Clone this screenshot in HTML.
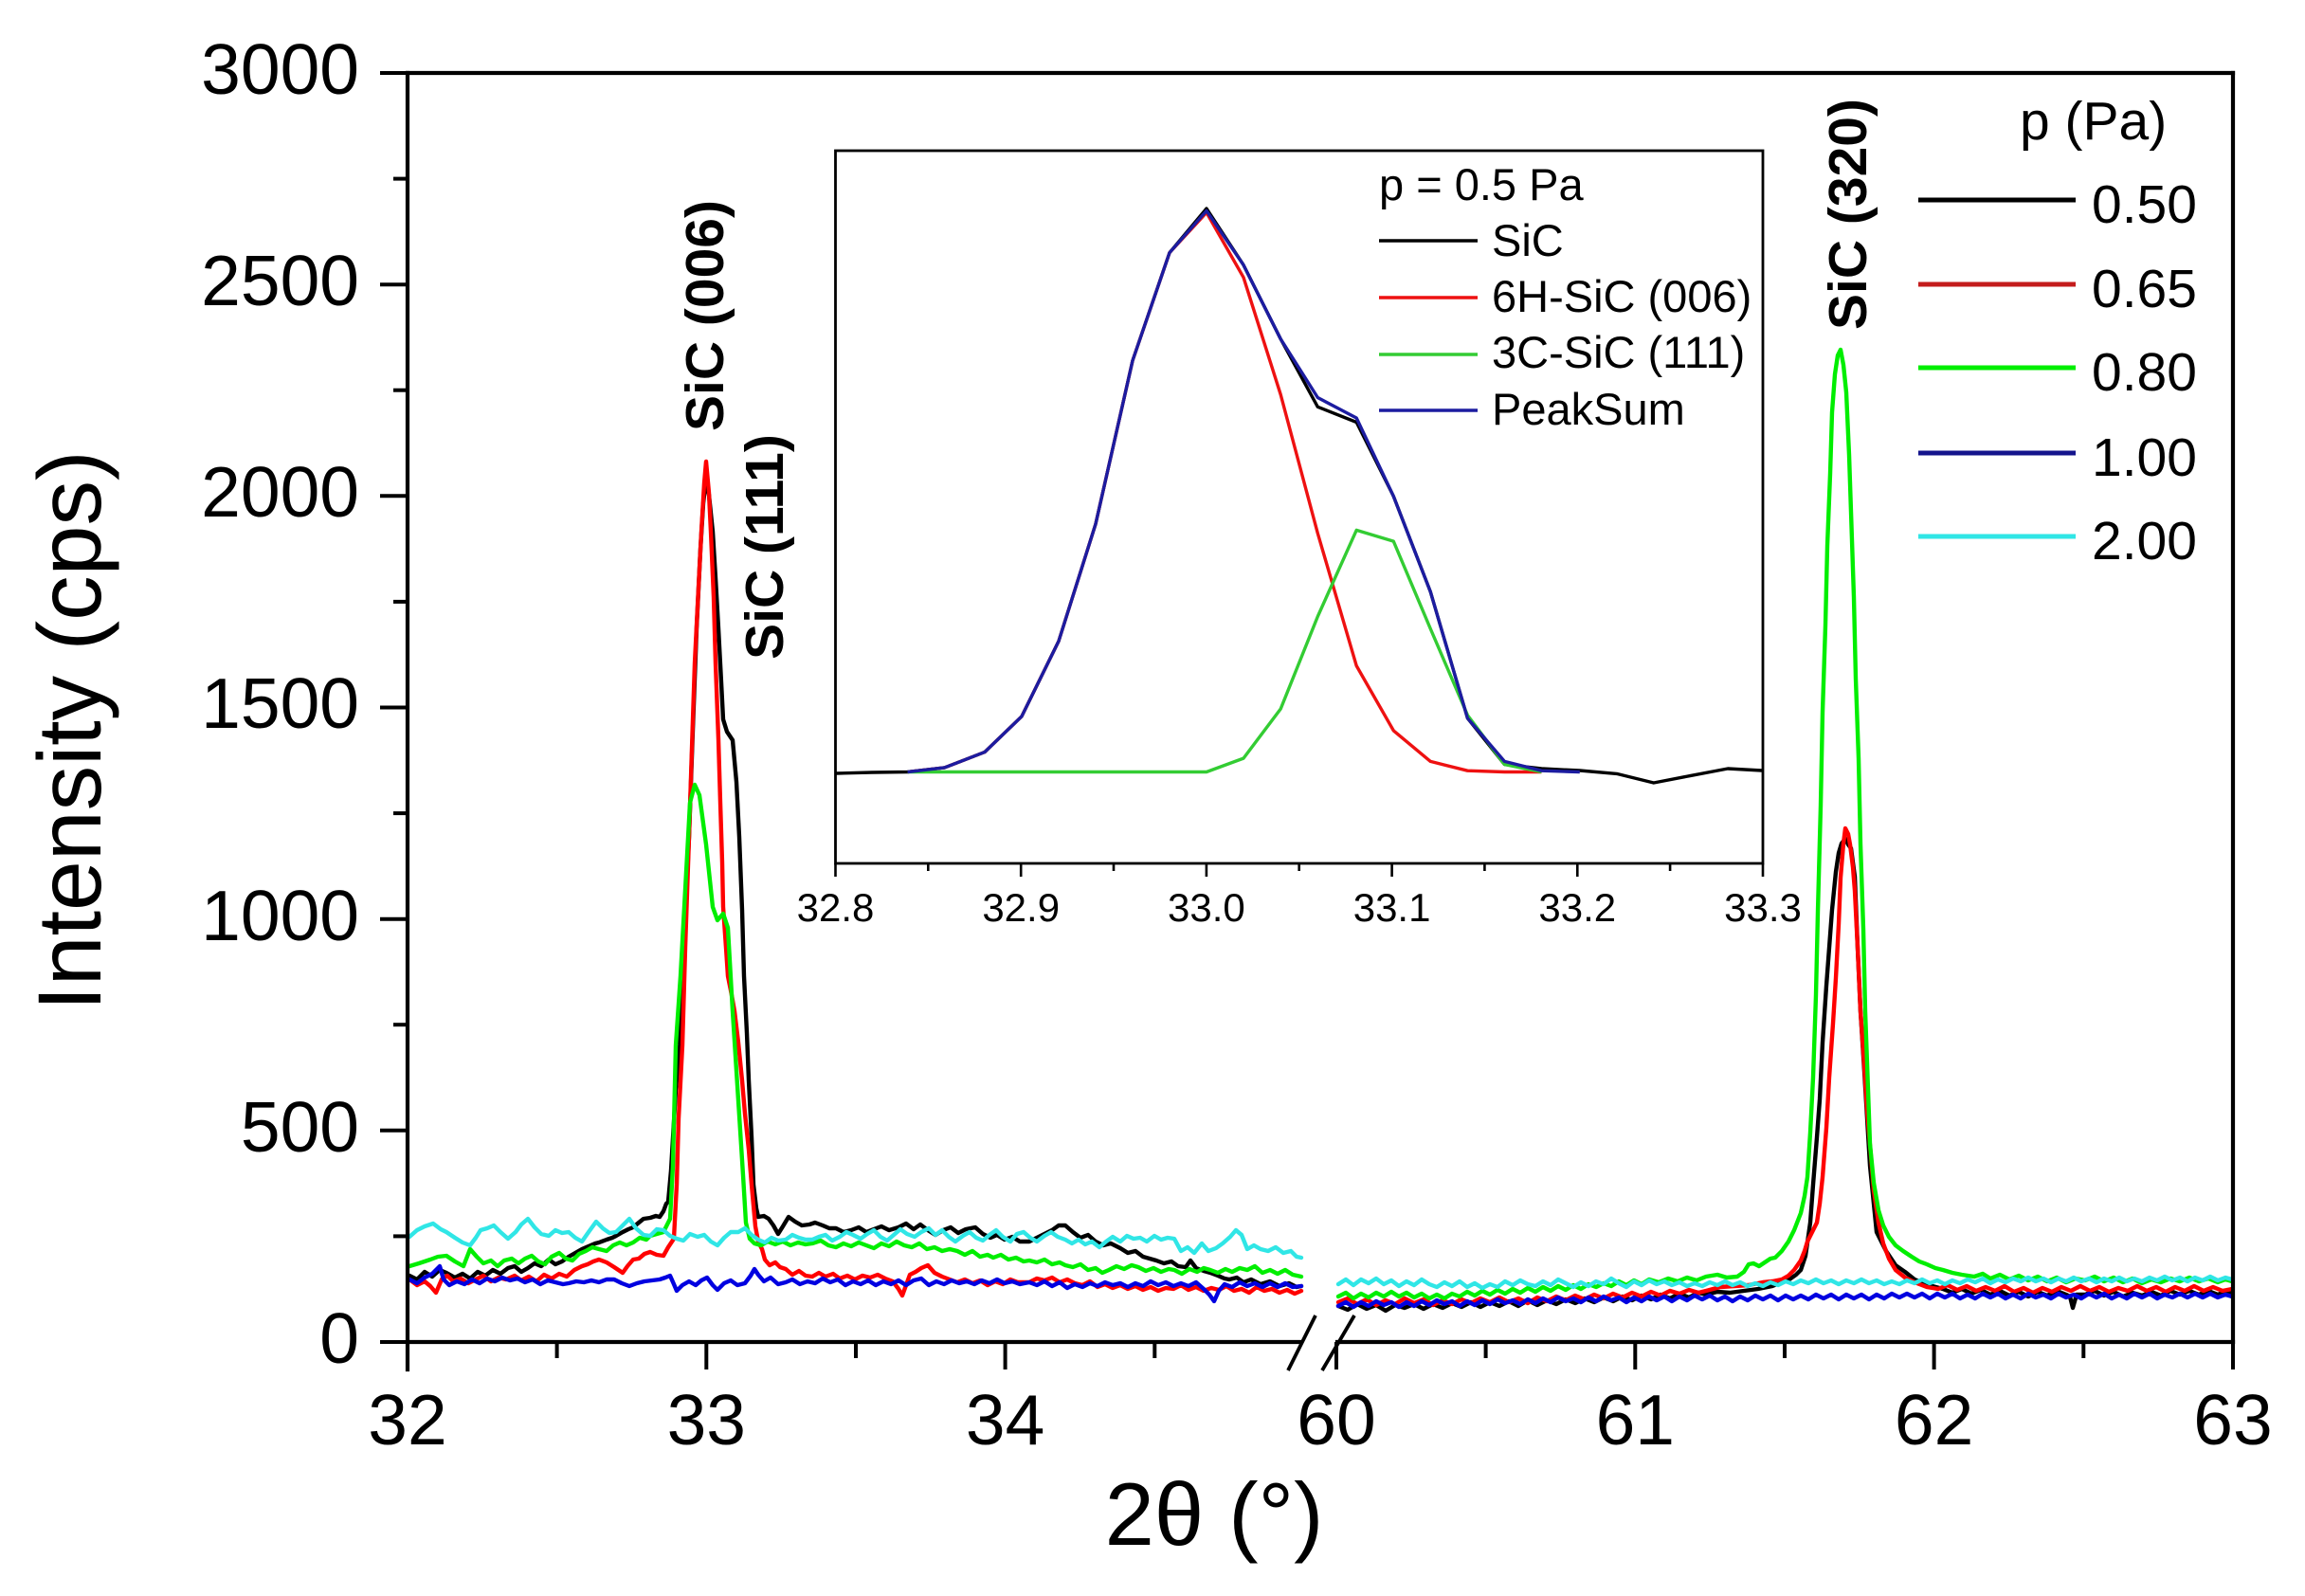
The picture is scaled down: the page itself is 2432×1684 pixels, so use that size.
<!DOCTYPE html>
<html>
<head>
<meta charset="utf-8">
<style>
html,body{margin:0;padding:0;background:#fff;}
svg{display:block;}
text{font-family:"Liberation Sans",Arial,sans-serif;fill:#000;}
</style>
</head>
<body>
<svg width="2432" height="1684" viewBox="0 0 2432 1684" xmlns="http://www.w3.org/2000/svg">
<rect x="0" y="0" width="2432" height="1684" fill="#fff"/>

<!-- ===== main data series ===== -->
<g fill="none" stroke-width="4.4" stroke-linejoin="round" stroke-linecap="round">
<!-- BLACK 0.50 -->
<polyline stroke="#000" points="432,1346 440,1350 448,1342 456,1347 464,1340 471,1343 480,1348 488,1344 496,1349 504,1342 512,1346 520,1340 528,1344 536,1338 543,1336 550,1342 557,1338 564,1333 571,1336 579,1329 586,1334 593,1331 600,1326 607,1322 614,1318 621,1315 628,1312 632,1311 640,1308 646,1306 650,1304 657,1300 663,1297 668,1295 674,1290 679,1286 686,1285 692,1283 696,1284 700,1278 703,1270 705,1268 708,1235 713,1150 717,1103 722,990 727,883 731,770 735,663 739,580 742,531 745,505 748,522 752,561 755,610 758,663 761,720 763,759 767,772 773,781 777,825 780,883 783,960 785,1030 788,1090 790,1140 793,1200 795,1250 798,1275 800,1284 806,1283 811,1286 816,1293 821,1302 826,1294 832,1284 839,1289 846,1293 854,1292 860,1290 868,1293 875,1296 882,1296 890,1300 898,1298 906,1295 914,1300 922,1297 930,1294 938,1298 948,1295 956,1291 964,1297 971,1292 979,1298 987,1303 995,1298 1003,1295 1011,1301 1019,1297 1029,1295 1037,1302 1045,1306 1052,1303 1060,1308 1068,1305 1076,1310 1086,1310 1094,1306 1102,1302 1110,1298 1117,1293 1124,1293 1132,1300 1140,1306 1148,1303 1156,1310 1164,1314 1172,1312 1182,1317 1190,1322 1198,1320 1206,1326 1213,1328 1220,1330 1228,1333 1236,1331 1243,1336 1251,1337 1256,1330 1262,1338 1270,1341 1277,1343 1285,1346 1292,1349 1297,1350 1305,1348 1312,1353 1320,1350 1330,1355 1340,1352 1350,1357 1360,1354 1368,1358 1373,1357"/>
<polyline stroke="#000" points="1412,1378 1422,1382 1432,1376 1442,1381 1452,1377 1462,1383 1472,1377 1482,1380 1492,1376 1502,1381 1512,1376 1522,1380 1532,1375 1542,1379 1552,1374 1562,1379 1572,1374 1582,1378 1592,1373 1602,1378 1612,1372 1622,1377 1632,1372 1642,1376 1652,1371 1662,1375 1672,1370 1682,1374 1692,1369 1702,1373 1712,1368 1722,1372 1732,1367 1742,1371 1752,1366 1762,1370 1772,1365 1782,1369 1792,1364 1800,1366 1812,1363 1825,1364 1840,1362 1855,1360 1870,1357 1882,1352 1888,1350 1895,1345 1900,1340 1905,1325 1910,1290 1913,1250 1917,1200 1920,1160 1923,1100 1927,1040 1930,1000 1933,960 1937,920 1940,900 1943,890 1947,885 1950,891 1953,895 1957,925 1960,1000 1963,1067 1967,1130 1970,1180 1973,1230 1977,1270 1980,1300 1990,1320 2000,1335 2010,1342 2020,1350 2035,1356 2050,1360 2060,1364 2070,1360 2080,1365 2090,1361 2100,1366 2110,1362 2120,1367 2130,1363 2140,1368 2150,1363 2160,1367 2170,1362 2180,1366 2184,1368 2187,1380 2191,1366 2200,1366 2210,1362 2220,1367 2230,1363 2240,1368 2250,1364 2260,1367 2270,1363 2280,1367 2290,1362 2300,1366 2310,1362 2320,1366 2330,1362 2340,1366 2350,1362 2355,1364"/>

<!-- RED 0.65 -->
<polyline stroke="#ff0000" points="432,1350 440,1356 448,1352 454,1357 460,1364 466,1350 472,1346 478,1352 486,1349 494,1354 502,1350 510,1346 518,1352 526,1348 534,1350 543,1346 550,1351 558,1347 566,1352 574,1345 582,1349 590,1344 598,1347 606,1340 614,1336 620,1334 626,1331 632,1329 640,1332 648,1337 657,1343 662,1336 668,1329 674,1328 680,1323 686,1321 693,1324 700,1325 705,1316 709,1310 711,1307 714,1250 716,1180 720,1103 723,1000 727,883 730,790 733,700 737,620 740,561 743,510 745,487 748,520 750,561 753,630 755,700 758,780 760,847 762,910 763,957 766,1000 768,1030 772,1050 775,1067 779,1100 783,1140 786,1175 790,1213 793,1250 797,1294 800,1310 804,1318 807,1329 812,1335 818,1332 823,1337 829,1339 836,1345 843,1341 850,1346 857,1347 864,1343 871,1347 879,1344 886,1349 894,1346 902,1350 910,1346 918,1348 926,1345 934,1349 942,1352 948,1360 952,1367 956,1356 960,1345 966,1342 972,1338 979,1335 986,1343 994,1347 1002,1350 1010,1353 1018,1350 1026,1354 1034,1351 1042,1356 1050,1352 1058,1355 1066,1350 1074,1353 1086,1353 1094,1349 1102,1351 1110,1348 1118,1353 1126,1350 1134,1354 1142,1356 1150,1352 1158,1358 1166,1355 1174,1359 1182,1356 1190,1360 1198,1357 1206,1361 1214,1358 1222,1362 1230,1359 1238,1360 1246,1356 1254,1361 1262,1358 1270,1362 1278,1359 1286,1361 1294,1357 1302,1362 1310,1360 1318,1364 1326,1358 1334,1362 1342,1360 1350,1364 1358,1361 1366,1365 1373,1362"/>
<polyline stroke="#ff0000" points="1412,1374 1422,1370 1432,1376 1442,1371 1452,1377 1462,1372 1472,1376 1482,1370 1492,1375 1502,1371 1512,1377 1522,1372 1532,1376 1542,1371 1552,1375 1562,1370 1572,1374 1582,1369 1592,1374 1602,1370 1612,1375 1622,1369 1632,1373 1642,1368 1652,1372 1662,1367 1672,1371 1682,1366 1692,1370 1702,1365 1712,1369 1722,1364 1732,1368 1742,1363 1752,1367 1762,1362 1772,1365 1782,1361 1792,1364 1800,1362 1815,1358 1830,1357 1845,1356 1860,1353 1870,1352 1880,1350 1887,1346 1893,1340 1900,1330 1904,1320 1907,1310 1912,1300 1917,1290 1920,1270 1923,1242 1927,1190 1930,1137 1934,1080 1937,1032 1940,975 1942,926 1945,890 1947,874 1950,880 1952,891 1955,915 1957,940 1960,1000 1963,1067 1967,1125 1970,1172 1974,1220 1977,1256 1982,1290 1987,1312 1993,1328 2000,1340 2010,1348 2020,1353 2033,1358 2045,1360 2055,1356 2065,1361 2075,1357 2085,1362 2095,1358 2105,1362 2115,1357 2125,1363 2135,1359 2145,1364 2155,1359 2165,1363 2175,1358 2185,1362 2195,1357 2205,1362 2215,1358 2225,1363 2235,1359 2245,1362 2255,1357 2265,1362 2275,1358 2285,1363 2295,1358 2305,1362 2315,1357 2325,1362 2335,1358 2345,1362 2355,1360"/>

<!-- GREEN 0.80 -->
<polyline stroke="#00ee00" points="432,1336 442,1333 454,1329 462,1326 471,1325 480,1331 489,1336 496,1318 503,1326 510,1333 518,1330 525,1336 532,1330 540,1328 547,1333 554,1328 561,1325 568,1331 575,1334 582,1326 590,1322 597,1328 604,1330 611,1323 618,1320 625,1316 632,1318 640,1320 647,1314 654,1311 661,1314 668,1311 675,1306 682,1308 686,1304 693,1302 700,1300 704,1292 707,1286 710,1230 713,1103 718,1030 722,957 728,847 733,828 738,839 745,891 752,957 757,971 763,964 768,979 773,1067 780,1177 784,1240 787,1290 791,1307 796,1312 803,1314 810,1310 818,1313 826,1310 834,1314 842,1311 850,1313 857,1312 866,1309 874,1314 882,1316 890,1312 898,1315 906,1311 914,1314 922,1317 930,1312 938,1315 946,1310 954,1314 962,1316 970,1312 978,1318 986,1316 994,1320 1002,1318 1010,1320 1018,1324 1026,1320 1034,1326 1042,1324 1048,1327 1056,1324 1064,1329 1072,1327 1080,1331 1086,1330 1094,1332 1102,1329 1110,1334 1118,1332 1124,1335 1132,1337 1140,1334 1148,1340 1156,1338 1163,1343 1170,1340 1178,1336 1186,1339 1194,1335 1201,1337 1209,1341 1217,1338 1225,1342 1233,1339 1239,1340 1247,1344 1255,1339 1263,1342 1270,1338 1277,1340 1285,1343 1293,1339 1300,1342 1308,1338 1316,1340 1324,1336 1332,1343 1340,1340 1348,1344 1356,1340 1364,1345 1373,1347"/>
<polyline stroke="#00ee00" points="1412,1368 1420,1364 1428,1370 1436,1365 1444,1369 1452,1364 1460,1368 1468,1363 1476,1368 1484,1364 1492,1369 1500,1365 1508,1370 1516,1366 1524,1370 1532,1365 1540,1368 1548,1363 1556,1367 1564,1362 1572,1366 1580,1361 1588,1365 1596,1360 1604,1364 1612,1359 1620,1363 1628,1358 1636,1362 1644,1357 1652,1361 1660,1356 1668,1360 1676,1355 1684,1358 1692,1354 1700,1357 1708,1352 1716,1356 1724,1351 1732,1355 1740,1350 1750,1353 1760,1349 1770,1352 1780,1348 1790,1351 1800,1347 1812,1345 1822,1348 1833,1347 1840,1342 1845,1334 1850,1333 1856,1336 1862,1332 1868,1328 1873,1327 1880,1320 1887,1310 1893,1298 1900,1280 1904,1262 1907,1242 1910,1195 1913,1137 1916,1050 1918,962 1921,850 1923,751 1926,660 1928,576 1931,500 1933,435 1936,395 1939,375 1942,369 1945,385 1948,414 1951,480 1953,540 1956,630 1958,716 1961,800 1963,891 1966,980 1968,1067 1971,1150 1973,1207 1977,1248 1982,1277 1987,1293 1993,1305 2000,1314 2008,1320 2017,1326 2025,1331 2033,1334 2042,1338 2050,1340 2060,1343 2070,1345 2083,1347 2092,1344 2100,1349 2110,1345 2120,1350 2130,1346 2140,1351 2150,1347 2160,1352 2170,1348 2180,1353 2190,1349 2200,1351 2210,1347 2220,1352 2230,1348 2240,1353 2250,1349 2260,1354 2270,1350 2280,1353 2290,1349 2300,1352 2310,1348 2320,1352 2330,1349 2340,1353 2348,1350 2355,1352"/>

<!-- BLUE 1.00 -->
<polyline stroke="#0000e0" points="432,1350 440,1354 448,1348 456,1344 464,1336 468,1350 474,1356 482,1352 490,1355 498,1350 506,1354 514,1349 522,1352 530,1348 538,1351 546,1349 554,1353 562,1350 570,1355 578,1351 586,1353 594,1355 600,1354 608,1352 616,1353 624,1351 632,1353 640,1350 648,1350 656,1354 664,1357 672,1354 680,1352 688,1351 696,1350 702,1348 707,1346 711,1355 714,1362 720,1356 727,1352 734,1356 740,1351 746,1348 752,1356 757,1361 764,1354 771,1351 778,1356 786,1354 792,1346 796,1339 800,1345 806,1352 813,1348 821,1355 829,1353 836,1350 844,1355 852,1352 860,1354 868,1349 876,1353 884,1350 892,1356 900,1352 908,1355 916,1351 924,1356 932,1352 940,1355 948,1351 956,1356 964,1351 972,1349 980,1356 988,1352 996,1355 1004,1351 1012,1354 1020,1352 1028,1355 1036,1351 1044,1354 1052,1350 1060,1354 1068,1352 1076,1355 1086,1353 1094,1356 1102,1352 1110,1357 1118,1353 1126,1359 1134,1355 1142,1358 1150,1354 1158,1357 1166,1353 1174,1356 1182,1354 1190,1358 1198,1354 1206,1357 1214,1352 1222,1356 1230,1353 1238,1357 1246,1354 1254,1357 1262,1353 1270,1360 1276,1366 1281,1373 1286,1362 1292,1355 1300,1358 1308,1353 1316,1357 1324,1354 1332,1358 1340,1354 1348,1358 1356,1354 1364,1358 1373,1357"/>
<polyline stroke="#0000e0" points="1412,1378 1420,1374 1428,1379 1436,1374 1444,1378 1452,1373 1460,1377 1468,1374 1476,1379 1484,1374 1492,1378 1500,1373 1508,1377 1516,1372 1524,1376 1532,1373 1540,1378 1548,1373 1556,1377 1564,1372 1572,1376 1580,1371 1588,1375 1596,1372 1604,1376 1612,1371 1620,1375 1628,1370 1636,1374 1644,1369 1652,1373 1660,1370 1668,1374 1676,1369 1684,1373 1692,1368 1700,1372 1708,1369 1716,1374 1724,1369 1732,1373 1740,1368 1748,1372 1756,1368 1764,1373 1772,1368 1780,1372 1788,1367 1796,1371 1804,1367 1812,1372 1820,1368 1828,1373 1836,1368 1844,1372 1852,1367 1860,1371 1868,1367 1876,1372 1884,1367 1892,1371 1900,1367 1908,1371 1916,1366 1924,1370 1932,1366 1940,1371 1948,1366 1956,1370 1964,1366 1972,1371 1980,1366 1988,1370 1996,1365 2004,1369 2012,1365 2020,1369 2028,1365 2036,1370 2044,1365 2052,1369 2060,1365 2068,1370 2076,1366 2084,1370 2092,1365 2100,1369 2108,1365 2116,1370 2124,1366 2132,1370 2140,1365 2148,1369 2156,1366 2164,1370 2172,1365 2180,1369 2188,1366 2196,1370 2204,1365 2212,1369 2220,1365 2228,1370 2236,1366 2244,1370 2252,1365 2260,1369 2268,1365 2276,1370 2284,1366 2292,1369 2300,1365 2308,1369 2316,1365 2324,1369 2332,1365 2340,1369 2348,1366 2355,1368"/>

<!-- CYAN 2.00 -->
<polyline stroke="#30e6e6" points="432,1305 440,1298 448,1294 457,1291 465,1297 471,1300 480,1306 488,1311 496,1314 502,1306 507,1298 514,1296 521,1293 528,1300 536,1307 544,1300 550,1292 557,1286 564,1295 571,1302 579,1304 586,1298 593,1301 600,1300 607,1306 614,1310 621,1300 629,1289 636,1296 643,1301 650,1300 657,1293 664,1286 671,1296 679,1303 686,1304 693,1297 700,1298 707,1304 714,1307 721,1309 728,1302 736,1305 743,1303 750,1310 757,1314 764,1306 771,1300 779,1300 786,1296 793,1303 800,1308 807,1311 814,1306 821,1309 829,1308 836,1303 843,1306 850,1308 857,1308 864,1305 871,1303 878,1309 886,1305 893,1300 900,1303 908,1307 915,1302 922,1298 929,1305 936,1309 943,1303 950,1297 957,1302 965,1305 972,1300 980,1296 987,1303 994,1298 1001,1305 1008,1310 1016,1304 1023,1300 1030,1306 1037,1309 1044,1303 1051,1298 1058,1305 1066,1310 1073,1302 1080,1300 1087,1306 1094,1310 1102,1304 1109,1300 1116,1305 1124,1308 1131,1312 1138,1308 1145,1313 1152,1310 1160,1316 1167,1310 1174,1305 1182,1310 1189,1304 1196,1307 1203,1306 1210,1310 1218,1304 1225,1308 1232,1306 1239,1307 1246,1320 1253,1316 1260,1322 1268,1312 1275,1320 1283,1317 1290,1312 1298,1305 1304,1298 1310,1303 1316,1318 1323,1314 1330,1318 1338,1320 1346,1316 1354,1322 1362,1320 1368,1326 1373,1327"/>
<polyline stroke="#30e6e6" points="1412,1355 1420,1350 1428,1356 1436,1350 1444,1354 1452,1349 1460,1355 1468,1351 1476,1357 1484,1352 1492,1356 1500,1350 1508,1355 1516,1358 1524,1353 1532,1357 1540,1352 1548,1358 1556,1354 1564,1359 1572,1355 1580,1358 1588,1352 1596,1356 1604,1351 1612,1355 1620,1357 1628,1352 1636,1356 1644,1350 1652,1354 1660,1358 1668,1353 1676,1357 1684,1352 1692,1355 1700,1349 1708,1354 1716,1358 1724,1352 1732,1356 1740,1351 1748,1355 1756,1352 1764,1356 1772,1353 1780,1357 1788,1354 1796,1357 1804,1353 1812,1356 1820,1352 1828,1356 1836,1353 1844,1357 1852,1354 1860,1357 1868,1353 1876,1356 1884,1352 1892,1355 1900,1351 1908,1354 1916,1350 1924,1354 1932,1351 1940,1355 1948,1351 1956,1354 1964,1350 1972,1354 1980,1351 1988,1355 1996,1352 2004,1355 2012,1351 2020,1354 2028,1350 2036,1354 2044,1351 2052,1355 2060,1351 2068,1354 2076,1350 2084,1353 2092,1349 2100,1354 2108,1350 2116,1353 2124,1349 2132,1352 2140,1348 2148,1352 2156,1349 2164,1353 2172,1349 2180,1352 2188,1348 2196,1352 2204,1349 2212,1353 2220,1349 2228,1352 2236,1348 2244,1352 2252,1349 2260,1352 2268,1348 2276,1351 2284,1347 2292,1351 2300,1348 2308,1352 2316,1348 2324,1351 2332,1347 2340,1351 2348,1348 2355,1350"/>
</g>

<!-- ===== axes ===== -->
<g stroke="#000" stroke-width="4.2" fill="none" stroke-linecap="square">
  <line x1="430" y1="77" x2="2356" y2="77"/>
  <line x1="2356" y1="77" x2="2356" y2="1416"/>
  <line x1="430" y1="77" x2="430" y2="1445"/>
  <line x1="430" y1="1416" x2="1372" y2="1416"/>
  <line x1="1411" y1="1416" x2="2356" y2="1416"/>
</g>
<g stroke="#000" stroke-width="4" fill="none">
  <line x1="401" y1="77" x2="430" y2="77"/>
  <line x1="401" y1="300.2" x2="430" y2="300.2"/>
  <line x1="401" y1="523.3" x2="430" y2="523.3"/>
  <line x1="401" y1="746.5" x2="430" y2="746.5"/>
  <line x1="401" y1="969.7" x2="430" y2="969.7"/>
  <line x1="401" y1="1192.8" x2="430" y2="1192.8"/>
  <line x1="401" y1="1416" x2="430" y2="1416"/>
  <line x1="415" y1="188.6" x2="430" y2="188.6"/>
  <line x1="415" y1="411.7" x2="430" y2="411.7"/>
  <line x1="415" y1="634.9" x2="430" y2="634.9"/>
  <line x1="415" y1="858.1" x2="430" y2="858.1"/>
  <line x1="415" y1="1081.2" x2="430" y2="1081.2"/>
  <line x1="415" y1="1304.4" x2="430" y2="1304.4"/>
  <line x1="745.3" y1="1416" x2="745.3" y2="1445"/>
  <line x1="1060.6" y1="1416" x2="1060.6" y2="1445"/>
  <line x1="1410" y1="1416" x2="1410" y2="1445"/>
  <line x1="1725.3" y1="1416" x2="1725.3" y2="1445"/>
  <line x1="2040.6" y1="1416" x2="2040.6" y2="1445"/>
  <line x1="2356" y1="1416" x2="2356" y2="1445"/>
  <line x1="587.6" y1="1416" x2="587.6" y2="1433"/>
  <line x1="903" y1="1416" x2="903" y2="1433"/>
  <line x1="1218.3" y1="1416" x2="1218.3" y2="1433"/>
  <line x1="1567.6" y1="1416" x2="1567.6" y2="1433"/>
  <line x1="1883" y1="1416" x2="1883" y2="1433"/>
  <line x1="2198.3" y1="1416" x2="2198.3" y2="1433"/>
  <line x1="1359" y1="1446" x2="1388" y2="1388" stroke-width="3.8"/>
  <line x1="1395" y1="1446" x2="1429" y2="1388" stroke-width="3.8"/>
</g>

<!-- y tick labels -->
<g font-size="75" text-anchor="end">
  <text x="379" y="99">3000</text>
  <text x="379" y="322">2500</text>
  <text x="379" y="545">2000</text>
  <text x="379" y="768">1500</text>
  <text x="379" y="992">1000</text>
  <text x="379" y="1215">500</text>
  <text x="379" y="1438">0</text>
</g>
<!-- x tick labels -->
<g font-size="75" text-anchor="middle">
  <text x="430" y="1524">32</text>
  <text x="745.3" y="1524">33</text>
  <text x="1060.6" y="1524">34</text>
  <text x="1410" y="1524">60</text>
  <text x="1725.3" y="1524">61</text>
  <text x="2040.6" y="1524">62</text>
  <text x="2356" y="1524">63</text>
</g>

<!-- axis titles -->
<text x="1281" y="1630" font-size="94" text-anchor="middle">2θ (°)</text>
<text x="106" y="771" font-size="95" text-anchor="middle" transform="rotate(-90 106 771)">Intensity (cps)</text>

<!-- peak labels -->
<g font-size="57" font-weight="bold" text-anchor="middle">
  <text x="763" y="333" transform="rotate(-90 763 333)">SiC (006)</text>
  <text x="826" y="577" transform="rotate(-90 826 577)">SiC (111)</text>
  <text x="1969" y="226" transform="rotate(-90 1969 226)">SiC (320)</text>
</g>

<!-- main legend -->
<text x="2131" y="147" font-size="57">p (Pa)</text>
<g stroke-width="5">
  <line x1="2024" y1="211" x2="2190" y2="211" stroke="#000"/>
  <line x1="2024" y1="300" x2="2190" y2="300" stroke="#c41c1c"/>
  <line x1="2024" y1="388" x2="2190" y2="388" stroke="#00ee00"/>
  <line x1="2024" y1="478" x2="2190" y2="478" stroke="#14148c"/>
  <line x1="2024" y1="566" x2="2190" y2="566" stroke="#30e6e6"/>
</g>
<g font-size="57">
  <text x="2207" y="235">0.50</text>
  <text x="2207" y="324">0.65</text>
  <text x="2207" y="412">0.80</text>
  <text x="2207" y="502">1.00</text>
  <text x="2207" y="590">2.00</text>
</g>

<!-- ===== inset ===== -->
<rect x="881.5" y="159" width="978.5" height="752" fill="#fff" stroke="#000" stroke-width="2.8"/>
<g stroke="#000" stroke-width="2.6">
  <line x1="881.5" y1="911" x2="881.5" y2="925"/>
  <line x1="1077.2" y1="911" x2="1077.2" y2="925"/>
  <line x1="1272.9" y1="911" x2="1272.9" y2="925"/>
  <line x1="1468.6" y1="911" x2="1468.6" y2="925"/>
  <line x1="1664.3" y1="911" x2="1664.3" y2="925"/>
  <line x1="1860" y1="911" x2="1860" y2="925"/>
  <line x1="979.3" y1="911" x2="979.3" y2="919"/>
  <line x1="1175" y1="911" x2="1175" y2="919"/>
  <line x1="1370.7" y1="911" x2="1370.7" y2="919"/>
  <line x1="1566.4" y1="911" x2="1566.4" y2="919"/>
  <line x1="1762.1" y1="911" x2="1762.1" y2="919"/>
</g>
<g font-size="42" text-anchor="middle">
  <text x="881.5" y="972">32.8</text>
  <text x="1077.2" y="972">32.9</text>
  <text x="1272.9" y="972">33.0</text>
  <text x="1468.6" y="972">33.1</text>
  <text x="1664.3" y="972">33.2</text>
  <text x="1860" y="972">33.3</text>
</g>
<g fill="none" stroke-width="3.4" stroke-linejoin="round">
  <polyline stroke="#000" points="882,816 920,815 957.6,814.5 996.6,809.9 1038.9,793.6 1078,755.9 1117,676.5 1156,552.9 1195,380.5 1234,266.6 1273,220 1312,279.6 1351.2,357.7 1390.3,429.3 1431.2,445.5 1470.3,523.6 1509.3,624.5 1548.4,757.8 1587.4,806.6 1626.5,811 1666.8,813 1705.8,816.4 1744.8,826 1783.9,818.4 1823,811 1859,813"/>
  <polyline stroke="#ee1111" points="957.6,814.5 996.6,809.9 1038.9,793.6 1078,755.9 1117,676.5 1156,552.9 1195,380.5 1234,266.6 1273,224.3 1312,292.7 1351.2,416.3 1390.3,562.7 1431.2,702.5 1470.3,770.9 1509.3,803.4 1548.4,813.2 1587.4,814.5 1626.5,814.5"/>
  <polyline stroke="#33cc33" points="957.6,814.5 1273,814.5 1312,800.1 1351.2,748 1390.3,650.5 1431.2,559.4 1470.3,571.1 1509.3,663.5 1548.4,754.6 1587.4,806.6 1626.5,814.5"/>
  <polyline stroke="#1c1ca0" points="957.6,814.5 996.6,809.9 1038.9,793.6 1078,755.9 1117,676.5 1156,552.9 1195,380.5 1234,266.6 1273,222.4 1312,279.6 1351.2,357.7 1390.3,419.5 1431.2,441 1470.3,523.6 1509.3,624.5 1548.4,757.8 1587.4,803.4 1626.5,813.2 1666.8,814.5"/>
</g>
<!-- inset legend -->
<text x="1455" y="211" font-size="47">p = 0.5 Pa</text>
<g stroke-width="3.6">
  <line x1="1455" y1="254" x2="1559" y2="254" stroke="#000"/>
  <line x1="1455" y1="314" x2="1559" y2="314" stroke="#ee1111"/>
  <line x1="1455" y1="374" x2="1559" y2="374" stroke="#33cc33"/>
  <line x1="1455" y1="433" x2="1559" y2="433" stroke="#1c1ca0"/>
</g>
<g font-size="47">
  <text x="1574" y="270">SiC</text>
  <text x="1574" y="329">6H-SiC (006)</text>
  <text x="1574" y="388">3C-SiC (111)</text>
  <text x="1574" y="448">PeakSum</text>
</g>
</svg>
</body>
</html>
